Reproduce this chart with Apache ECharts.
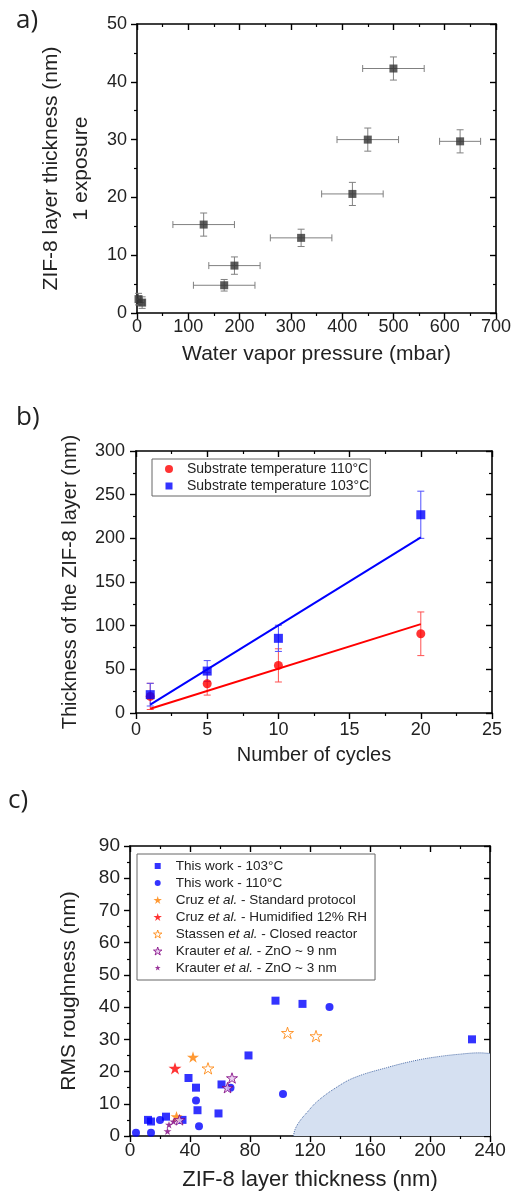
<!DOCTYPE html>
<html><head><meta charset="utf-8">
<script src="https://cdn.jsdelivr.net/npm/echarts@6/dist/echarts.min.js"></script>
<style>html,body{margin:0;padding:0;background:#fff}#c{width:513px;height:1194px}</style>
</head><body><div id="c"></div>
<script>
// ---------- Panel a data ----------
const aPressure      = [3, 10, 130, 170, 190, 320, 420, 450, 500, 630];
const aThickness     = [2.4, 1.8, 15.3, 4.8, 8.2, 13.0, 20.6, 30.0, 42.3, 29.7];
const aPressureErr   = [4, 4, 60, 60, 50, 60, 60, 60, 60, 40];
const aThicknessErr  = [1, 1, 2, 1, 1.5, 1.5, 2, 2, 2, 2];
const aXTicks = [0, 700, 100];
const aYTicks = [0, 50, 10];

// ---------- Panel b data ----------
const bCycles  = [1, 5, 10, 20];
const b110     = [19, 33.5, 54.5, 90.7];
const b110Err  = [15, 13, 19, 25];
const b103     = [21, 48, 85.5, 227];
const b103Err  = [13, 12, 15, 27];
const bFit110  = [[1, 4.9], [20, 101.8]];
const bFit103  = [[1, 9.5], [20, 201]];
const bXTicks = [0, 25, 5];
const bYTicks = [0, 300, 50];
const bNames = ['Substrate temperature 110°C', 'Substrate temperature 103°C'];

// ---------- Panel c data ----------
const c103      = [[97,42],[115,41],[228,30],[79,25],[39,18],[44,15],[61,16],[45,8],[59,7],[24,6],[12,5],[14,4.5],[35,5]];
const c110      = [[133,40],[102,13],[44,11],[46,3],[20,5],[4,1],[14,1],[67,15]];
const cCruzStd  = [[42,24.5],[31,6]];
const cCruzHum  = [[30,21]];
const cStassen  = [[105,32],[124,31],[52,21]];
const cKrauter9 = [[68,18],[65,15],[33,5]];
const cKrauter3 = [[26,3.5],[25,1.5],[29,4.5]];
const cRegion   = [[109,0],[110,2],[113,4.5],[118,7.3],[125,10.8],[138,15.2],[150,18.2],[171,21.2],[190,23.4],[205,24.6],[220,25.4],[233,25.8],[240,25.6]];
const cXTicks = [0, 240, 40];
const cYTicks = [0, 90, 10];
const cNames = ['This work - 103°C','This work - 110°C','Cruz et al. - Standard protocol','Cruz et al. - Humidified 12% RH','Stassen et al. - Closed reactor','Krauter et al. - ZnO ~ 9 nm','Krauter et al. - ZnO ~ 3 nm'];

// ---------- styling ----------
const FONT = 'Liberation Sans';
const STAR = 'path://M50,0L61.23,34.55L97.55,34.55L68.17,55.9L79.39,90.45L50,69.1L20.61,90.45L31.83,55.9L2.45,34.55L38.77,34.55Z';
const STAR_SMALL_ICON = 'path://M-14,-14M50,0L61.23,34.55L97.55,34.55L68.17,55.9L79.39,90.45L50,69.1L20.61,90.45L31.83,55.9L2.45,34.55L38.77,34.55ZM114,114';
const SQUARE_ICON_C = 'path://M0,0M1,1L7,1L7,7L1,7ZM8,8';
const CIRCLE_ICON_C = 'path://M0,0M1,4A3,3,0,1,0,7,4A3,3,0,1,0,1,4ZM8,8';
const SQUARE_ICON_B = 'path://M0,0M0.5,0.5L7.5,0.5L7.5,7.5L0.5,7.5ZM8,8';
const BLUE = '#0000ff', RED = '#ff0000', ORANGE = '#ff8000', PURPLE = '#800080';

function makeErr(color, cap){
  return function(params, api){
    const x = api.value(0), y = api.value(1), ex = api.value(2), ey = api.value(3);
    const ch = []; const s = {stroke: color, lineWidth: 1};
    if (ey > 0){
      const t = api.coord([x, y+ey]), b = api.coord([x, y-ey]);
      ch.push({type:'line', shape:{x1:t[0],y1:t[1],x2:b[0],y2:b[1]}, style:s});
      ch.push({type:'line', shape:{x1:t[0]-cap/2,y1:t[1],x2:t[0]+cap/2,y2:t[1]}, style:s});
      ch.push({type:'line', shape:{x1:b[0]-cap/2,y1:b[1],x2:b[0]+cap/2,y2:b[1]}, style:s});
    }
    if (ex > 0){
      const l = api.coord([x-ex, y]), r = api.coord([x+ex, y]);
      ch.push({type:'line', shape:{x1:l[0],y1:l[1],x2:r[0],y2:r[1]}, style:s});
      ch.push({type:'line', shape:{x1:l[0],y1:l[1]-cap/2,x2:l[0],y2:l[1]+cap/2}, style:s});
      ch.push({type:'line', shape:{x1:r[0],y1:r[1]-cap/2,x2:r[0],y2:r[1]+cap/2}, style:s});
    }
    return {type:'group', children: ch};
  };
}

function mainAxis(gridIndex, t, pos, opts){
  return Object.assign({
    type:'value', gridIndex, position: pos, min:t[0], max:t[1], interval:t[2],
    axisLine:{show:true, onZero:false, lineStyle:{color:'#000', width:1.6}},
    axisTick:{show:true, inside:false, length:6, lineStyle:{color:'#000', width:1.4}},
    minorTick:{show:true, splitNumber:2, length:3, lineStyle:{color:'#000', width:1.2}},
    splitLine:{show:false},
    axisLabel:{show:true, fontFamily:FONT, fontSize:18, color:'#222', margin:6, showMinLabel:true, showMaxLabel:true, hideOverlap:false},
    nameLocation:'middle',
    nameTextStyle:{fontFamily:FONT, fontSize:21, color:'#222'}
  }, opts || {});
}
function mirrorAxis(gridIndex, t, pos){
  return {
    type:'value', gridIndex, position: pos, min:t[0], max:t[1], interval:t[2],
    axisLine:{show:true, onZero:false, lineStyle:{color:'#000', width:1.6}},
    axisTick:{show:true, inside:true, length:6, lineStyle:{color:'#000', width:1.4}},
    minorTick:{show:true, splitNumber:2, length:3, lineStyle:{color:'#000', width:1.2}},
    splitLine:{show:false}, axisLabel:{show:false}
  };
}

const chart = echarts.init(document.getElementById('c'), null, {renderer:'canvas'});
const option = {
  animation:false,
  backgroundColor:'#fff',
  grid:[
    {left:137, top:24, width:359, height:289, outerBoundsMode:'none'},
    {left:136, top:451, width:356, height:262, outerBoundsMode:'none'},
    {left:130, top:846, width:360, height:290, outerBoundsMode:'none'}
  ],
  xAxis:[
    mainAxis(0, aXTicks, 'bottom', {name:'Water vapor pressure (mbar)', nameGap:31, axisLabel:{fontFamily:FONT, fontSize:18, color:'#222', margin:5, showMinLabel:true, showMaxLabel:true}}),
    mirrorAxis(0, aXTicks, 'top'),
    mainAxis(1, bXTicks, 'bottom', {name:'Number of cycles', nameGap:32, nameTextStyle:{fontFamily:FONT, fontSize:20, color:'#222'}, axisLabel:{fontFamily:FONT, fontSize:18, color:'#222', margin:8, showMinLabel:true, showMaxLabel:true}}),
    mirrorAxis(1, bXTicks, 'top'),
    mainAxis(2, cXTicks, 'bottom', {name:'ZIF-8 layer thickness (nm)', nameGap:33, nameTextStyle:{fontFamily:FONT, fontSize:22, color:'#222'}, axisLabel:{fontFamily:FONT, fontSize:19, color:'#222', margin:5, showMinLabel:true, showMaxLabel:true}}),
    mirrorAxis(2, cXTicks, 'top')
  ],
  yAxis:[
    mainAxis(0, aYTicks, 'left', {name:'ZIF-8 layer thickness (nm)\n1 exposure', nameGap:32, nameRotate:90, nameTextStyle:{fontFamily:FONT, fontSize:21, color:'#222', lineHeight:30, align:'center'}, axisLabel:{fontFamily:FONT, fontSize:18, color:'#222', margin:10}}),
    mirrorAxis(0, aYTicks, 'right'),
    mainAxis(1, bYTicks, 'left', {name:'Thickness of the ZIF-8 layer (nm)', nameGap:56, nameRotate:90, nameTextStyle:{fontFamily:FONT, fontSize:20, color:'#222'}, axisLabel:{fontFamily:FONT, fontSize:18, color:'#222', margin:11}}),
    mirrorAxis(1, bYTicks, 'right'),
    mainAxis(2, cYTicks, 'left', {name:'RMS roughness (nm)', nameGap:50, nameRotate:90, nameTextStyle:{fontFamily:FONT, fontSize:21, color:'#222'}, axisLabel:{fontFamily:FONT, fontSize:19, color:'#222', margin:10}}),
    mirrorAxis(2, cYTicks, 'right')
  ],
  legend:[
    {data:[{name:bNames[0], icon:'circle'}, {name:bNames[1], icon:SQUARE_ICON_B}],
     orient:'vertical', left:152, top:459, padding:[3,1,3,13], itemWidth:26, itemHeight:8, itemGap:3, symbolKeepAspect:true,
     textStyle:{fontFamily:FONT, fontSize:14, color:'#222', lineHeight:14}, borderColor:'#666', borderWidth:1, borderRadius:0, backgroundColor:'#fff', selectedMode:false},
    {data:[{name:cNames[0], icon:SQUARE_ICON_C}, {name:cNames[1], icon:CIRCLE_ICON_C},
           {name:cNames[2], icon:STAR}, {name:cNames[3], icon:STAR},
           {name:cNames[4], icon:STAR, itemStyle:{borderWidth:1}}, {name:cNames[5], icon:STAR, itemStyle:{borderWidth:1}},
           {name:cNames[6], icon:STAR_SMALL_ICON}],
     orient:'vertical', left:137, top:854, padding:[5,8,5,16], itemWidth:26, itemHeight:8, itemGap:3, symbolKeepAspect:true,
     formatter:function(n){ return n.replace('et al.', '{i|et al.}'); },
     textStyle:{fontFamily:FONT, fontSize:13.5, color:'#222', lineHeight:14, rich:{i:{fontFamily:FONT, fontSize:13.5, color:'#222', fontStyle:'italic', lineHeight:14}}},
     borderColor:'#666', borderWidth:1, borderRadius:0, backgroundColor:'#fff', selectedMode:false}
  ],
  graphic:[
    {type:'text', left:16, top:8, style:{text:'a)', font:'26px "Open Sans"', fill:'#222'}},
    {type:'text', left:16, top:405, style:{text:'b)', font:'26px "Open Sans"', fill:'#222'}},
    {type:'text', left:8, top:788, style:{text:'c)', font:'26px "Open Sans"', fill:'#222'}}
  ],
  series:[
    // Panel a
    {type:'custom', xAxisIndex:0, yAxisIndex:0, renderItem:makeErr('#808080', 7), encode:{x:0, y:1},
     data:aPressure.map((x,i)=>[x, aThickness[i], aPressureErr[i], aThicknessErr[i]]), z:2},
    {type:'scatter', xAxisIndex:0, yAxisIndex:0, symbol:'rect', symbolSize:8, itemStyle:{color:'#333'},
     data:aPressure.map((x,i)=>[x, aThickness[i]]), z:3},
    // Panel b
    {type:'line', name:'fit110', xAxisIndex:2, yAxisIndex:2, data:bFit110, showSymbol:false, symbol:'none', lineStyle:{color:RED, width:2}, z:2},
    {type:'line', name:'fit103', xAxisIndex:2, yAxisIndex:2, data:bFit103, showSymbol:false, symbol:'none', lineStyle:{color:BLUE, width:2}, z:2},
    {type:'custom', xAxisIndex:2, yAxisIndex:2, renderItem:makeErr('#ff5050', 7), encode:{x:0, y:1},
     data:bCycles.map((x,i)=>[x, b110[i], 0, b110Err[i]]), z:2},
    {type:'custom', xAxisIndex:2, yAxisIndex:2, renderItem:makeErr('#5050ff', 7), encode:{x:0, y:1},
     data:bCycles.map((x,i)=>[x, b103[i], 0, b103Err[i]]), z:2},
    {type:'scatter', name:bNames[0], xAxisIndex:2, yAxisIndex:2, symbol:'circle', symbolSize:9, itemStyle:{color:RED},
     data:bCycles.map((x,i)=>[x, b110[i]]), z:3},
    {type:'scatter', name:bNames[1], xAxisIndex:2, yAxisIndex:2, symbol:'rect', symbolSize:9, itemStyle:{color:BLUE},
     data:bCycles.map((x,i)=>[x, b103[i]]), z:4},
    // Panel c
    {type:'line', name:'region', xAxisIndex:4, yAxisIndex:4, data:cRegion, smooth:0.4, showSymbol:false, symbol:'none',
     lineStyle:{color:'#4f6fa8', width:1, type:'dotted'}, areaStyle:{color:'#d5e0f1', opacity:1, origin:'start'}, z:1},
    {type:'scatter', name:cNames[0], xAxisIndex:4, yAxisIndex:4, symbol:'rect', symbolSize:8, itemStyle:{color:BLUE}, data:c103, z:3},
    {type:'scatter', name:cNames[1], xAxisIndex:4, yAxisIndex:4, symbol:'circle', symbolSize:8, itemStyle:{color:BLUE}, data:c110, z:3},
    {type:'scatter', name:cNames[2], xAxisIndex:4, yAxisIndex:4, symbol:STAR, symbolSize:12, symbolKeepAspect:true, itemStyle:{color:ORANGE}, data:cCruzStd, z:4},
    {type:'scatter', name:cNames[3], xAxisIndex:4, yAxisIndex:4, symbol:STAR, symbolSize:13, symbolKeepAspect:true, itemStyle:{color:RED}, data:cCruzHum, z:4},
    {type:'scatter', name:cNames[4], xAxisIndex:4, yAxisIndex:4, symbol:STAR, symbolSize:12, symbolKeepAspect:true, itemStyle:{color:'#ffffff', borderColor:ORANGE, borderWidth:1}, data:cStassen, z:4},
    {type:'scatter', name:cNames[5], xAxisIndex:4, yAxisIndex:4, symbol:STAR, symbolSize:11, symbolKeepAspect:true, itemStyle:{color:'#e6c8ee', borderColor:PURPLE, borderWidth:1}, data:cKrauter9, z:4},
    {type:'scatter', name:cNames[6], xAxisIndex:4, yAxisIndex:4, symbol:STAR, symbolSize:8, symbolKeepAspect:true, itemStyle:{color:PURPLE}, data:cKrauter3, z:4}
  ]
};
chart.setOption(option);
</script>
</body></html>
